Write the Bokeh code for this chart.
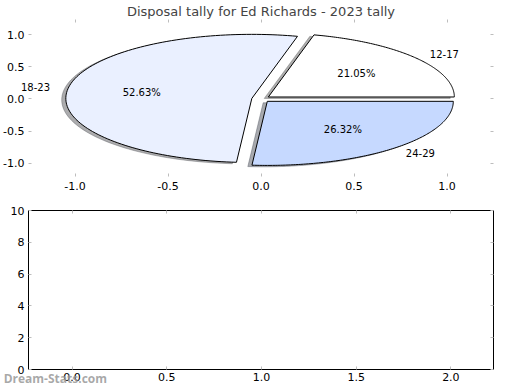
import numpy as np
from bokeh.plotting import figure
from bokeh.models import Range1d, LinearAxis, FixedTicker, ColumnDataSource
from bokeh.layouts import column
from bokeh.embed import file_html
from bokeh.resources import INLINE
from bokeh.core.properties import value

# ---------------- data ----------------
title_text = "Disposal tally for Ed Richards - 2023 tally"
age_groups = ["12-17", "18-23", "24-29"]
disposals = [4, 10, 5]
slice_colors = ["#ffffff", "#eaf0ff", "#c6d9ff"]
explode = [0.05, 0.05, 0.05]

pie_ticks = [-1.0, -0.5, 0.0, 0.5, 1.0]
pie_tick_labels = ["-1.0", "-0.5", "0.0", "0.5", "1.0"]
lower_x_ticks = [0.0, 0.5, 1.0, 1.5, 2.0]
lower_x_labels = ["0.0", "0.5", "1.0", "1.5", "2.0"]
lower_y_ticks = [0, 2, 4, 6, 8, 10]
lower_y_labels = ["0", "2", "4", "6", "8", "10"]
watermark = "Dream-Stats.com"

FONT = "DejaVu Sans"
TICK_COLOR = "#bdbdbd"


def style_axis(ax, size="11px", standoff=4):
    ax.axis_line_color = None
    ax.major_tick_in = 3
    ax.major_tick_out = 0
    ax.major_tick_line_color = TICK_COLOR
    ax.minor_tick_line_color = None
    ax.major_label_text_font = FONT
    ax.major_label_text_font_size = size
    ax.major_label_text_color = "black"
    ax.major_label_standoff = standoff


def blank_axis(ticks):
    ax = LinearAxis(ticker=FixedTicker(ticks=ticks))
    style_axis(ax, size="0px", standoff=0)
    ax.major_label_text_color = None
    return ax


# ---------------- pie figure ----------------
p1 = figure(width=520, height=193, output_backend="svg", toolbar_location=None,
            x_range=Range1d(-1.25, 1.25), y_range=Range1d(-1.21, 1.24),
            min_border_left=26, min_border_right=27, min_border_top=19, min_border_bottom=17)
p1.outline_line_color = None
p1.grid.visible = False
p1.background_fill_color = "white"
p1.border_fill_color = "white"
p1.title.text = title_text
p1.title.align = "center"
p1.title.text_font = FONT
p1.title.text_font_size = "13px"
p1.title.text_font_style = "normal"
p1.title.text_line_height = 1.0
p1.title.standoff = 2
p1.title.offset = 0

p1.xaxis.ticker = FixedTicker(ticks=pie_ticks)
p1.yaxis.ticker = FixedTicker(ticks=pie_ticks)
p1.xaxis.major_label_overrides = dict(zip(pie_ticks, pie_tick_labels))
p1.yaxis.major_label_overrides = dict(zip(pie_ticks, pie_tick_labels))
style_axis(p1.xaxis[0], standoff=5)
style_axis(p1.yaxis[0])
p1.add_layout(blank_axis(pie_ticks), "right")
p1.add_layout(blank_axis(pie_ticks), "above")

total = float(sum(disposals))
shadow_dx = shadow_dy = -0.02 * 80 / 72
wx, wy, sx, sy, shadow_cols = [], [], [], [], []
lab_left, lab_right, pct = [], [], []
theta = 0.0
for name, val, col, ex in zip(age_groups, disposals, slice_colors, explode):
    frac = val / total
    t1, t2 = theta, theta + 360.0 * frac
    theta = t2
    mid = np.radians((t1 + t2) / 2)
    cx, cy = ex * np.cos(mid), ex * np.sin(mid)
    ang = np.radians(np.linspace(t1, t2, 120))
    xs = [cx] + list(cx + np.cos(ang)) + [cx]
    ys = [cy] + list(cy + np.sin(ang)) + [cy]
    wx.append(xs)
    wy.append(ys)
    sx.append([x + shadow_dx for x in xs])
    sy.append([y + shadow_dy for y in ys])
    r, g, b = (int(col[i:i + 2], 16) for i in (1, 3, 5))
    shadow_cols.append("#%02x%02x%02x" % (int(0.3 * r), int(0.3 * g), int(0.3 * b)))
    xt, yt = cx + 1.1 * np.cos(mid), cy + 1.1 * np.sin(mid)
    (lab_left if xt > 0 else lab_right).append((xt, yt, name))
    pct.append((cx + 0.6 * np.cos(mid), cy + 0.6 * np.sin(mid), "%.2f%%" % (100 * frac)))

p1.patches(sx, sy, fill_color=shadow_cols, fill_alpha=0.45, line_color=shadow_cols,
           line_alpha=0.35, line_width=1)
p1.patches(wx, wy, fill_color=slice_colors, line_color="black", line_width=1)


def add_text(fig, rows, align, size="10px", color="black", style="normal", alpha=1.0,
             font=FONT):
    if not rows:
        return
    src = ColumnDataSource(dict(x=[r[0] for r in rows], y=[r[1] for r in rows],
                                t=[r[2] for r in rows]))
    fig.text("x", "y", text="t", source=src, text_align=align, text_baseline="middle",
             text_font=value(font), text_font_size=value(size), text_color=color,
             text_font_style=style, text_alpha=alpha, level="overlay")


add_text(p1, lab_left, "left")
add_text(p1, lab_right, "right")
add_text(p1, pct, "center")

# ---------------- empty lower figure ----------------
lower_xr = (-0.23, 2.225)
p2 = figure(width=520, height=197, output_backend="svg", toolbar_location=None,
            x_range=Range1d(*lower_xr), y_range=Range1d(0, 10),
            min_border_left=25, min_border_right=27, min_border_top=17, min_border_bottom=21)
p2.grid.visible = False
p2.outline_line_color = "black"
p2.outline_line_width = 1
p2.background_fill_color = "white"
p2.border_fill_color = "white"
p2.xaxis.ticker = FixedTicker(ticks=lower_x_ticks)
p2.yaxis.ticker = FixedTicker(ticks=lower_y_ticks)
p2.xaxis.major_label_overrides = dict(zip(lower_x_ticks, lower_x_labels))
p2.yaxis.major_label_overrides = dict(zip(lower_y_ticks, lower_y_labels))
style_axis(p2.xaxis[0], standoff=3)
style_axis(p2.yaxis[0])
p2.add_layout(blank_axis(lower_y_ticks), "right")
p2.add_layout(blank_axis(lower_x_ticks), "above")

# watermark anchored at the canvas' left edge, just under the frame
px_per_x = (520 - 25 - 27) / (lower_xr[1] - lower_xr[0])
px_per_y = (197 - 17 - 21) / 10.0
add_text(p2, [(lower_xr[0] - 25 / px_per_x, -8.5 / px_per_y, watermark)], "left",
         size="12px", color="#999999", style="bold", alpha=0.85, font="Open Sans")

layout = column(p1, p2, spacing=0)
open("out.html", "w").write(file_html(layout, INLINE))
